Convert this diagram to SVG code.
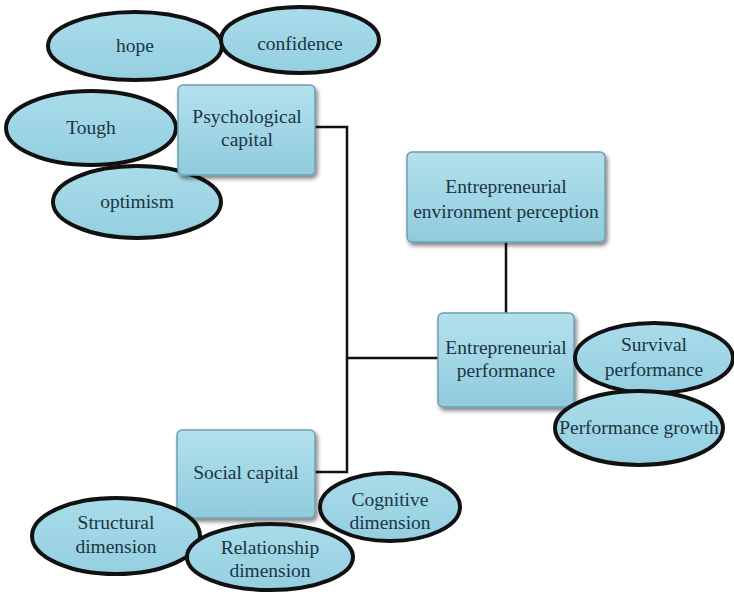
<svg xmlns="http://www.w3.org/2000/svg" width="734" height="592" viewBox="0 0 734 592">
<defs>
<linearGradient id="gr" x1="0" y1="0" x2="0" y2="1">
<stop offset="0" stop-color="#b3e1ed"/>
<stop offset="1" stop-color="#8fcbdd"/>
</linearGradient>
<linearGradient id="ge" x1="0" y1="0" x2="0" y2="1">
<stop offset="0" stop-color="#a9dcea"/>
<stop offset="1" stop-color="#94cfe0"/>
</linearGradient>
<filter id="sh" x="-10%" y="-10%" width="130%" height="130%">
<feGaussianBlur in="SourceAlpha" stdDeviation="2"/>
<feOffset dx="2" dy="3"/>
<feComponentTransfer><feFuncA type="linear" slope="0.5"/></feComponentTransfer>
<feMerge><feMergeNode/><feMergeNode in="SourceGraphic"/></feMerge>
</filter>
</defs>
<style>
.box{fill:url(#gr);stroke:#6f9fb0;stroke-width:1.5;filter:url(#sh)}
.ell{fill:url(#ge);stroke:#111;stroke-width:4}
text{font-family:"Liberation Serif","Times New Roman","DejaVu Serif",serif;font-size:19.5px;fill:#1b3542;text-anchor:middle}
.c{fill:none;stroke:#111;stroke-width:2.5}
</style>
<rect width="734" height="592" fill="#fff"/>
<g id="connectors">
<polyline class="c" points="315,127 347,127 347,472 315,472"/>
<line class="c" x1="347" y1="358" x2="438" y2="358"/>
<line class="c" x1="506" y1="242" x2="506" y2="313"/>
</g>
<g id="hope"><ellipse class="ell" cx="135" cy="46" rx="87" ry="34"/><text x="135" y="52">hope</text></g>
<g id="confidence"><ellipse class="ell" cx="300" cy="40" rx="79" ry="33"/><text x="300" y="50">confidence</text></g>
<g id="tough"><ellipse class="ell" cx="91" cy="128" rx="85" ry="37"/><text x="91" y="134">Tough</text></g>
<g id="optimism"><ellipse class="ell" cx="137" cy="202" rx="84" ry="36"/><text x="137" y="208">optimism</text></g>
<g id="psych"><rect class="box" x="178" y="85" width="137" height="90" rx="5"/><text x="247" y="123">Psychological</text><text x="247" y="146">capital</text></g>
<g id="env"><rect class="box" x="407" y="152" width="198" height="90" rx="5"/><text x="506" y="193">Entrepreneurial</text><text x="506" y="218">environment perception</text></g>
<g id="perf"><rect class="box" x="438" y="313" width="136" height="94" rx="5"/><text x="506" y="354">Entrepreneurial</text><text x="506" y="377">performance</text></g>
<g id="survival"><ellipse class="ell" cx="654" cy="358" rx="79" ry="35"/><text x="654" y="351">Survival</text><text x="654" y="376">performance</text></g>
<g id="growth"><ellipse class="ell" cx="639" cy="428" rx="84" ry="37"/><text x="639" y="434">Performance growth</text></g>
<g id="social"><rect class="box" x="177" y="430" width="138" height="88" rx="5"/><text x="246" y="479">Social capital</text></g>
<g id="cognitive"><ellipse class="ell" cx="390" cy="507" rx="70" ry="34"/><text x="390" y="506">Cognitive</text><text x="390" y="529">dimension</text></g>
<g id="structural"><ellipse class="ell" cx="116" cy="536" rx="84" ry="38"/><text x="116" y="529">Structural</text><text x="116" y="553">dimension</text></g>
<g id="relationship"><ellipse class="ell" cx="270" cy="557" rx="83" ry="33"/><text x="270" y="554">Relationship</text><text x="270" y="577">dimension</text></g>
</svg>
